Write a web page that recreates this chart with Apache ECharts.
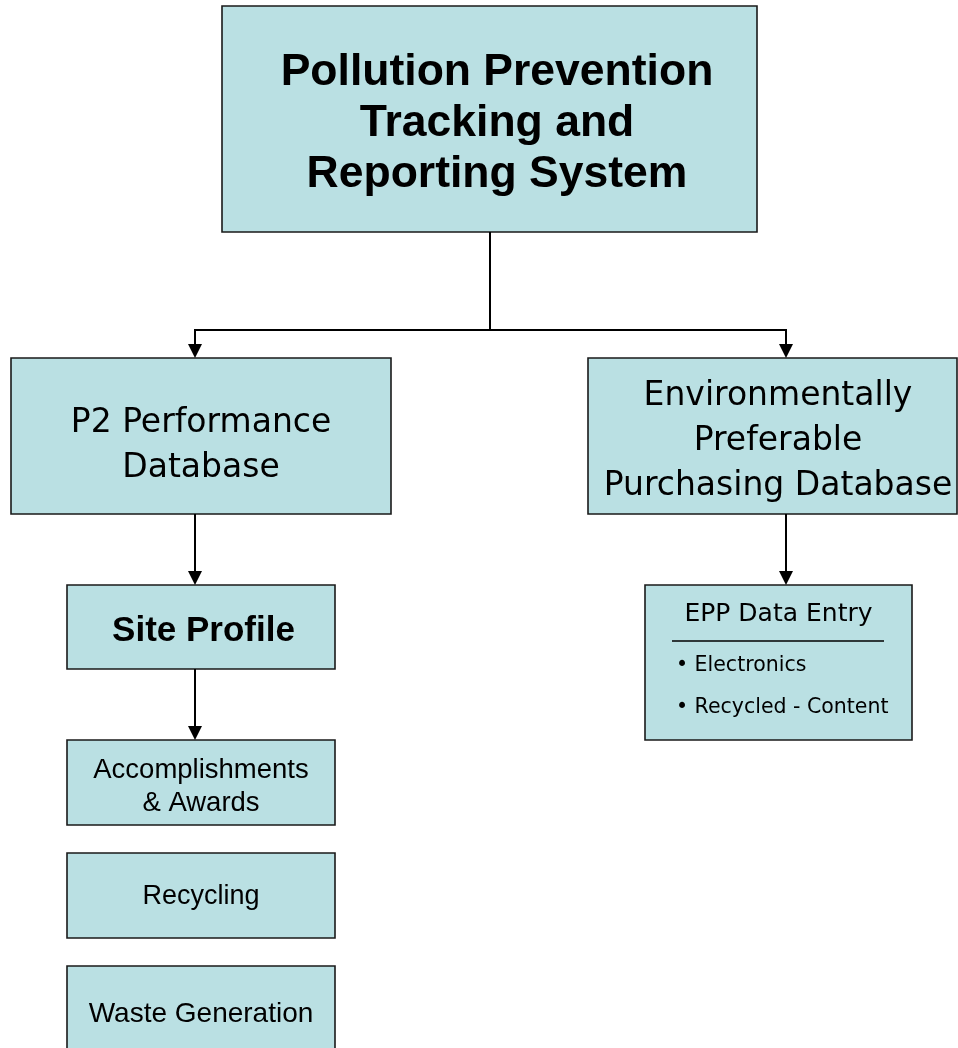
<!DOCTYPE html>
<html><head><meta charset="utf-8">
<script src="https://cdn.jsdelivr.net/npm/echarts@6/dist/echarts.min.js"></script>
<style>html,body{margin:0;padding:0;background:#fff}#c{width:958px;height:1048px}</style>
</head><body><div id="c"></div>
<script>
// Diagram nodes (axis units = canvas pixels)
var nodeNames = ['top','p2','epp','site','acc','rec','waste','entry'];
var nodeText = [
  'Pollution Prevention\nTracking and\nReporting System',
  'P2 Performance\nDatabase',
  'Environmentally\nPreferable\nPurchasing Database',
  'Site Profile',
  'Accomplishments\n& Awards',
  'Recycling',
  'Waste Generation',
  'EPP Data Entry'
];
var nodeX0 = [222, 11, 588, 67, 67, 67, 67, 645];
var nodeX1 = [757, 391, 957, 335, 335, 335, 335, 912];
var nodeY0 = [6, 358, 358, 585, 740, 853, 966, 585];
var nodeY1 = [232, 514, 514, 669, 825, 938, 1060, 740];
var entryBullets = ['Electronics', 'Recycled - Content'];
// Connectors: polyline points [x,y] ; arrow at end
var edges = [
  [[490,232],[490,330],[195,330],[195,358]],
  [[490,330],[786,330],[786,358]],
  [[195,514],[195,585]],
  [[195,669],[195,740]],
  [[786,514],[786,585]]
];

var FILL = '#bae0e3', STROKE = '#1a1a1a';
var fontBold = 'Liberation Sans';
var fontReg = 'DejaVu Sans';
var styleFor = {
  top:   {font: fontBold, weight: 'bold', size: 44.5, lh: 51, cx: 497, cy: 124},
  p2:    {font: fontReg, weight: 'normal', size: 33, lh: 45, cx: 201, cy: 446},
  epp:   {font: fontReg, weight: 'normal', size: 33, lh: 45, cx: 778, cy: 441},
  site:  {font: fontBold, weight: 'bold', size: 35, lh: 38, cx: 203.5, cy: 631},
  acc:   {font: fontBold, weight: 'normal', size: 27.5, lh: 33, cx: 201, cy: 787},
  rec:   {font: fontBold, weight: 'normal', size: 27, lh: 33, cx: 201, cy: 897},
  waste: {font: fontBold, weight: 'normal', size: 28, lh: 33, cx: 201, cy: 1014}
};

var boxData = nodeNames.map(function(n, i){ return [nodeX0[i], nodeY0[i], nodeX1[i], nodeY1[i], i]; });
var edgeData = edges.map(function(e, i){ return [e[0][0], e[0][1], i]; });

var chart = echarts.init(document.getElementById('c'), null, {renderer: 'canvas'});
chart.setOption({
  animation: false,
  grid: {left: 0, right: 0, top: 0, bottom: 0},
  xAxis: {type: 'value', min: 0, max: 958, show: false},
  yAxis: {type: 'value', min: 0, max: 1048, inverse: true, show: false},
  series: [
    {
      type: 'custom',
      clip: false,
      data: boxData,
      renderItem: function(params, api){
        var i = api.value(4);
        var p0 = api.coord([api.value(0), api.value(1)]);
        var p1 = api.coord([api.value(2), api.value(3)]);
        var w = p1[0]-p0[0], h = p1[1]-p0[1];
        var name = nodeNames[i];
        var children = [{
          type: 'rect',
          shape: {x: p0[0], y: p0[1], width: w, height: h},
          style: {fill: FILL, stroke: STROKE, lineWidth: 1.6}
        }];
        if (name === 'entry') {
          var top = api.coord([0, 614])[1];
          var sep = api.coord([0, 641])[1];
          children.push({type:'text', style:{text: nodeText[i], x: p0[0]+w/2, y: top, align:'center', verticalAlign:'middle', font: 'normal 25px "DejaVu Sans"', fill:'#000'}});
          var lx0 = api.coord([672,0])[0], lx1 = api.coord([884,0])[0];
          children.push({type:'line', shape:{x1:lx0, y1:sep, x2:lx1, y2:sep}, style:{stroke:'#000', lineWidth:1.5}});
          var by = [666, 708];
          entryBullets.forEach(function(b, k){
            children.push({type:'text', style:{text: '\u2022 ' + b, x: api.coord([676,0])[0], y: api.coord([0,by[k]])[1], align:'left', verticalAlign:'middle', font: 'normal 20.5px "DejaVu Sans"', fill:'#000'}});
          });
        } else {
          var s = styleFor[name];
          var c = api.coord([s.cx, s.cy]);
          children.push({type:'text', style:{
            text: nodeText[i], x: c[0], y: c[1],
            align:'center', verticalAlign:'middle',
            fontFamily: s.font, fontWeight: s.weight, fontSize: s.size, lineHeight: s.lh, fill:'#000'
          }});
        }
        return {type:'group', children: children};
      }
    },
    {
      type: 'custom',
      clip: false,
      data: edgeData,
      renderItem: function(params, api){
        var e = edges[api.value(2)];
        var pts = e.map(function(p){ return api.coord(p); });
        var last = pts[pts.length-1];
        var trunc = pts.slice();
        trunc[trunc.length-1] = [last[0], last[1]-10];
        return {type:'group', children:[
          {type:'polyline', shape:{points: trunc}, style:{stroke:'#000', lineWidth:2, fill:null}},
          {type:'polygon', shape:{points:[[last[0]-7,last[1]-14],[last[0]+7,last[1]-14],[last[0],last[1]]]}, style:{fill:'#000'}}
        ]};
      }
    }
  ]
});
</script></body></html>
